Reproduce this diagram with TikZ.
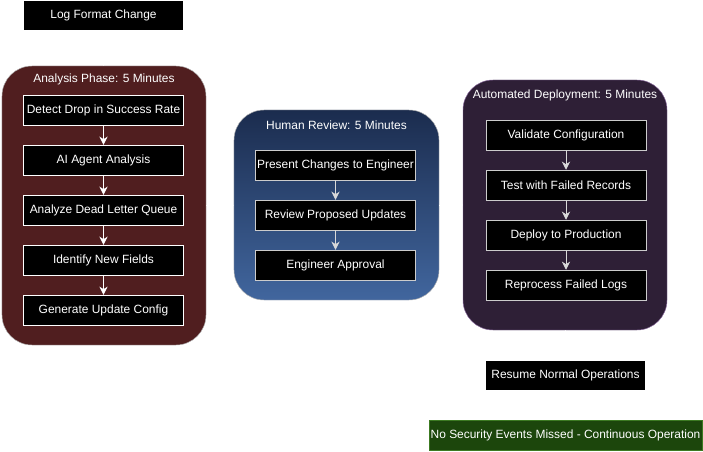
\documentclass[tikz,border=0pt]{standalone}
\usepackage{fontspec}
\setmainfont{Liberation Sans}
\usetikzlibrary{arrows.meta, positioning}
\definecolor{analysiscol}{HTML}{501E1F}
\definecolor{reviewtop}{HTML}{1B2C4E}
\definecolor{reviewbot}{HTML}{41669E}
\definecolor{deploycol}{HTML}{2E1F36}
\definecolor{deployedge}{HTML}{8A6A9E}
\definecolor{donecol}{HTML}{1C460C}
\definecolor{doneedge}{HTML}{3C7A22}
\tikzset{
  stepbox/.style={rectangle, draw=white, fill=black, text=white, minimum width=4.8cm, minimum height=0.9cm, font=\fontsize{10.2}{12}\selectfont, inner sep=1pt},
  phase/.style={rectangle, rounded corners=0.9cm, draw=gray!60, minimum width=6.12cm},
  phasetitle/.style={text=white, font=\fontsize{10.2}{12}\selectfont, inner sep=0pt},
  flow/.style={->, white, thick},
  link/.style={->, white, thin},
}
\begin{document}
\begin{tikzpicture}[>={Stealth[length=7pt, width=7pt]}, x=0.03cm, y=-0.03cm]
  \useasboundingbox (0,0) rectangle (703,452);
  % ── trigger ──────────────────────────────────────────────────────
  \node[stepbox, draw=none, minimum width=4.77cm, minimum height=0.87cm] (LogChange) at (103.5, 15.5) {Log Format Change};
  % ── analysis phase (maroon) ──────────────────────────────────────
  \node[phase, fill=analysiscol, minimum height=8.37cm] (Analysis) at (104, 205.5) {};
  \node[phasetitle] (AnalysisT) at (104, 79) {Analysis Phase: 5 Minutes};
  \node[stepbox] (Detect)   at (103.5, 110) {Detect Drop in Success Rate};
  \node[stepbox] (Agent)    at (103.5, 160) {AI Agent Analysis};
  \node[stepbox] (DeadQ)    at (103.5, 210) {Analyze Dead Letter Queue};
  \node[stepbox] (Fields)   at (103.5, 260) {Identify New Fields};
  \node[stepbox] (GenConf)  at (103.5, 310) {Generate Update Config};
  \draw[flow] (Detect) -- (Agent);
  \draw[flow] (Agent) -- (DeadQ);
  \draw[flow] (DeadQ) -- (Fields);
  \draw[flow] (Fields) -- (GenConf);
  % ── human review (blue gradient) ─────────────────────────────────
  \node[phase, top color=reviewtop, bottom color=reviewbot, minimum width=6.15cm, minimum height=5.7cm] (Review) at (336.5, 205) {};
  \node[phasetitle] (ReviewT) at (336.5, 125) {Human Review: 5 Minutes};
  \node[stepbox, draw=gray!40] (Present)  at (335.5, 165) {Present Changes to Engineer};
  \node[stepbox, draw=gray!40] (Proposed) at (335.5, 215) {Review Proposed Updates};
  \node[stepbox, draw=gray!40] (Approve)  at (335.5, 265) {Engineer Approval};
  \draw[flow, gray!30] (Present) -- (Proposed);
  \draw[flow, gray!30] (Proposed) -- (Approve);
  % ── automated deployment (purple) ────────────────────────────────
  \node[phase, fill=deploycol, draw=deployedge, minimum height=7.5cm] (Deploy) at (565, 205) {};
  \node[phasetitle] (DeployT) at (565, 95) {Automated Deployment: 5 Minutes};
  \node[stepbox, draw=gray!40] (Validate)  at (566, 135) {Validate Configuration};
  \node[stepbox, draw=gray!40] (TestRec)   at (566, 185) {Test with Failed Records};
  \node[stepbox, draw=gray!40] (Prod)      at (566, 235) {Deploy to Production};
  \node[stepbox, draw=gray!40] (Reprocess) at (566, 285) {Reprocess Failed Logs};
  \draw[flow, gray!30] (Validate) -- (TestRec);
  \draw[flow, gray!30] (TestRec) -- (Prod);
  \draw[flow, gray!30] (Prod) -- (Reprocess);
  % ── outcome ──────────────────────────────────────────────────────
  \node[stepbox, draw=none, minimum width=4.77cm, minimum height=0.87cm] (Resume) at (565.5, 375.5) {Resume Normal Operations};
  \node[stepbox, fill=donecol, draw=doneedge, minimum width=8.19cm] (NoMiss) at (565.5, 435) {No Security Events Missed - Continuous Operation};
  % ── phase links (white on white) ─────────────────────────────────
  \draw[link] (LogChange) -- (Analysis);
  \draw[link] (Analysis) -- (Review);
  \draw[link] (Review) -- (Deploy);
  \draw[link] (Deploy) -- (Resume);
  \draw[link] (Resume) -- (NoMiss);
\end{tikzpicture}
\end{document}
